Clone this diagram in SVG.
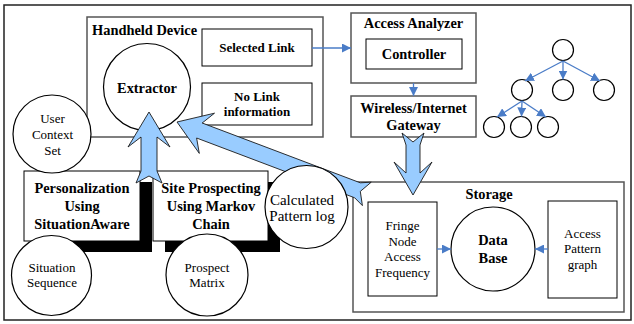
<svg xmlns="http://www.w3.org/2000/svg" width="634" height="324" viewBox="0 0 634 324">
<style>
.b{font-family:"Liberation Serif","Times New Roman",serif;font-weight:bold;font-size:14.4px;fill:#000}
.s{font-family:"Liberation Serif","Times New Roman",serif;font-weight:bold;font-size:13px;fill:#000}
.n{font-family:"Liberation Serif","Times New Roman",serif;font-size:13px;fill:#000}
.c{text-anchor:middle}
.cont{fill:#fff;stroke:#555;stroke-width:1.5}
.box{fill:#fff;stroke:#000;stroke-width:1}
.circ{fill:#fff;stroke:#000;stroke-width:1.2}
.shadow{fill:#000}
.big{fill:#99ccff;stroke:#1a1a1a;stroke-width:0.9;stroke-linejoin:miter}
.link{fill:none;stroke:#4a7cc7;stroke-width:1.3}
</style>
<defs>
<marker id="ah" viewBox="0 0 10 10" refX="10" refY="5" markerWidth="9" markerHeight="9" markerUnits="userSpaceOnUse" orient="auto">
<path d="M0,0 L10,5 L0,10 z" fill="#4a7cc7"/>
</marker>
</defs>
<rect x="4" y="5" width="627" height="315" fill="#fff" stroke="#222" stroke-width="1.5"/>

<g id="handheld-device">
<rect class="cont" x="87" y="17" width="236" height="120"/>
<text class="b" x="92" y="35">Handheld Device</text>
</g>
<g id="selected-link">
<rect class="box" x="202" y="29" width="110" height="37"/>
<text class="s c" x="257" y="52">Selected Link</text>
</g>
<g id="no-link-information">
<rect class="box" x="202" y="83" width="110" height="42"/>
<text class="s c" x="257" y="101">No Link</text>
<text class="s c" x="257" y="116">information</text>
</g>
<g id="extractor">
<circle class="circ" cx="147" cy="87" r="43.5"/>
<text class="b c" x="147" y="93">Extractor</text>
</g>
<g id="access-analyzer">
<rect class="cont" x="351" y="13" width="125" height="70"/>
<text class="b c" x="413.5" y="28">Access Analyzer</text>
</g>
<g id="controller">
<rect class="box" x="366" y="39" width="96" height="30"/>
<text class="b c" x="414" y="59">Controller</text>
</g>
<g id="wireless-internet-gateway">
<rect class="cont" x="351" y="96" width="125" height="41"/>
<text class="b c" x="413.5" y="112.5">Wireless/Internet</text>
<text class="b c" x="413.5" y="130">Gateway</text>
</g>

<g id="tree">
<circle class="circ" cx="563" cy="50" r="10.5"/>
<circle class="circ" cx="522" cy="90" r="10.5"/>
<circle class="circ" cx="563" cy="90" r="10.5"/>
<circle class="circ" cx="604" cy="90" r="10.5"/>
<circle class="circ" cx="494" cy="127" r="10.5"/>
<circle class="circ" cx="521" cy="127" r="10.5"/>
<circle class="circ" cx="548" cy="127" r="10.5"/>
</g>

<g id="storage">
<rect class="cont" x="353" y="182" width="271" height="130"/>
<text class="b c" x="489" y="199">Storage</text>
</g>
<g id="fringe-node-access-frequency">
<rect class="box" x="368" y="202" width="69" height="94"/>
<text class="n c" x="402.5" y="229.5">Fringe</text>
<text class="n c" x="402.5" y="245.5">Node</text>
<text class="n c" x="402.5" y="261">Access</text>
<text class="n c" x="402.5" y="276.5">Frequency</text>
</g>
<g id="data-base">
<circle class="circ" cx="493" cy="249" r="42"/>
<text class="b c" x="493" y="245">Data</text>
<text class="b c" x="493" y="263">Base</text>
</g>
<g id="access-pattern-graph">
<rect class="box" x="548" y="201" width="69" height="97"/>
<text class="n c" x="582.5" y="237.5">Access</text>
<text class="n c" x="582.5" y="253">Pattern</text>
<text class="n c" x="582.5" y="268.5">graph</text>
</g>

<g id="personalization">
<rect class="shadow" x="36" y="182" width="116" height="70"/>
<rect class="box" x="24" y="171" width="116" height="70"/>
<text class="b c" x="82" y="193">Personalization</text>
<text class="b c" x="82" y="211">Using</text>
<text class="b c" x="82" y="229">SituationAware</text>
</g>
<g id="site-prospecting">
<rect class="shadow" x="165" y="182" width="115" height="70"/>
<rect class="box" x="153" y="171" width="115" height="70"/>
<text class="b c" x="211" y="193">Site Prospecting</text>
<text class="b c" x="211" y="211">Using Markov</text>
<text class="b c" x="211" y="229">Chain</text>
</g>

<g id="connectors">
<line class="link" x1="312" y1="48" x2="351" y2="48" marker-end="url(#ah)"/>
<line class="link" x1="413.5" y1="83" x2="413.5" y2="96" marker-end="url(#ah)"/>
<line class="link" x1="563" y1="61" x2="525" y2="81" marker-end="url(#ah)"/>
<line class="link" x1="563" y1="61" x2="563" y2="79.5" marker-end="url(#ah)"/>
<line class="link" x1="563" y1="61" x2="600" y2="81" marker-end="url(#ah)"/>
<line class="link" x1="522" y1="101" x2="497" y2="117" marker-end="url(#ah)"/>
<line class="link" x1="522" y1="101" x2="521.5" y2="116.5" marker-end="url(#ah)"/>
<line class="link" x1="522" y1="101" x2="546" y2="117" marker-end="url(#ah)"/>
<line class="link" x1="437" y1="249" x2="451" y2="249" marker-end="url(#ah)"/>
<line class="link" x1="548" y1="249" x2="535" y2="249" marker-end="url(#ah)"/>
<polygon class="big" points="149,112 170,147 157,137 157,171 162,183 149,176 136,183 141,171 141,137 128,147"/>
<polygon class="big" points="177,122 214.5,113.2 202.2,123 360.3,182.8 371.2,182.2 360.3,191.4 362.4,205.6 354.7,197.8 196.6,138 199.3,153.4"/>
<polygon class="big" points="402,133 413,142 424,133 420,145 420,173 432,162 413,195 394,162 406,173 406,145"/>
</g>

<g id="user-context-set">
<circle class="circ" cx="52" cy="134" r="39"/>
<text class="n c" x="52.5" y="122.5">User</text>
<text class="n c" x="52.5" y="139">Context</text>
<text class="n c" x="52.5" y="155">Set</text>
</g>
<g id="situation-sequence">
<circle class="circ" cx="51.5" cy="275.5" r="40"/>
<text class="n c" x="52" y="271.5">Situation</text>
<text class="n c" x="52" y="287">Sequence</text>
</g>
<g id="prospect-matrix">
<circle class="circ" cx="207" cy="275" r="41"/>
<text class="n c" x="207" y="271.5">Prospect</text>
<text class="n c" x="207" y="286.5">Matrix</text>
</g>
<g id="calculated-pattern-log">
<circle class="circ" cx="306.5" cy="207" r="41.5"/>
<text class="n c" x="302" y="205" style="font-size:15px">Calculated</text>
<text class="n c" x="302" y="220.5" style="font-size:15px">Pattern log</text>
</g>
</svg>
